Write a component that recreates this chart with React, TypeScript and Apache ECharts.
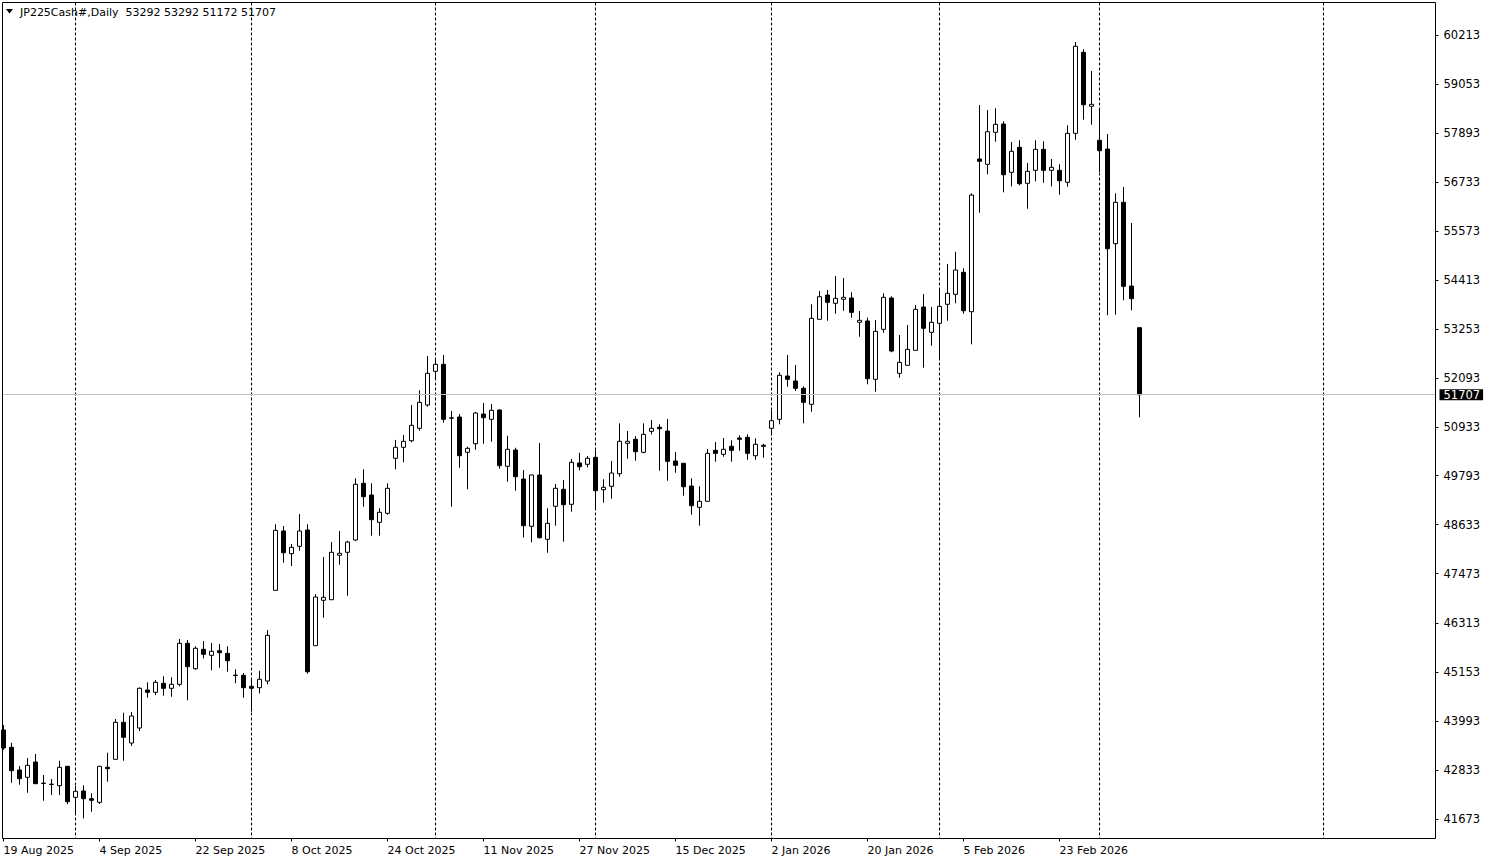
import React, { useEffect, useRef } from "react";
import * as echarts from "echarts";

const symbolTitle = "JP225Cash#,Daily";
const firstDate = "2025-08-19";
const holidays = ["2025-12-25", "2026-01-01"];
const futureSlots = 37;
const monthNames = ["Jan", "Feb", "Mar", "Apr", "May", "Jun", "Jul", "Aug", "Sep", "Oct", "Nov", "Dec"];

const opens = [
  43778, 43368, 42832, 42659, 43021, 42520, 42490, 42460, 42920, 42186, 42335, 42153, 42068, 42896, 43085, 43960, 43470, 43825, 44724, 44669,
  44882, 44764, 44858, 45828, 45227, 45686, 45544, 45653, 45591, 45075, 45071, 44811, 44778, 44936, 47081, 48484, 47947, 48122, 48507, 45771,
  46845, 46859, 47909, 47980, 48271, 49612, 49335, 48689, 48902, 50203, 50463, 50619, 50912, 51463, 52260, 52426, 51150, 51179, 50345, 50548,
  51250, 51125, 51345, 50014, 50399, 49713, 48595, 49808, 48287, 49068, 49470, 49115, 50092, 50061, 50226, 49460, 49541, 49839, 50557, 50652,
  50345, 50841, 50936, 50848, 50139, 50085, 49548, 49044, 49186, 50392, 50297, 50487, 50683, 50699, 50264, 50510, 50912, 51125, 52149, 52031,
  51858, 51480, 53490, 54064, 53868, 53963, 53994, 53419, 53450, 52071, 53253, 53994, 52213, 52402, 52757, 53781, 53182, 53395, 53845, 54081,
  54601, 53670, 57281, 57155, 57912, 58108, 56966, 57557, 56706, 57013, 57510, 57013, 57013, 56730, 57888, 59804, 58527, 57723, 57517, 55278,
  56257, 54277, 53292,
];
const highs = [
  43896, 43477, 42926, 43115, 43210, 42713, 42619, 43052, 42926, 42453, 42470, 42281, 42930, 43241, 44038, 44187, 44203, 44787, 44906, 44960,
  45047, 45024, 45930, 45906, 45757, 45882, 45835, 45811, 45757, 45213, 45126, 44967, 45180, 46142, 48642, 48602, 48176, 48886, 48642, 46994,
  47869, 48223, 48484, 48254, 49730, 49943, 49612, 49020, 49612, 50636, 50754, 51463, 51811, 52622, 52575, 52646, 51321, 51250, 50477, 51298,
  51511, 51487, 51362, 50737, 50453, 49926, 49815, 50565, 49020, 49595, 49690, 50186, 50335, 50257, 50382, 49706, 50139, 51030, 50848, 50730,
  51030, 51108, 51007, 51132, 50352, 50090, 49730, 49541, 50423, 50588, 50683, 50628, 50747, 50770, 50676, 50548, 51328, 52236, 52646, 52409,
  51905, 53845, 54159, 54183, 54514, 54467, 54128, 53686, 53528, 53473, 54105, 54034, 53119, 53355, 53828, 54088, 53781, 54223, 54798, 55088,
  54696, 56469, 58558, 58439, 58480, 58172, 57683, 57723, 57186, 57723, 57699, 57281, 57155, 58078, 60047, 59882, 59362, 58446, 57872, 56469,
  56618, 55767, 53292,
];
const lows = [
  43305, 42531, 42484, 42295, 42500, 42106, 42240, 42240, 42021, 41768, 41689, 41846, 42028, 42555, 43080, 43052, 43399, 43754, 44541, 44605,
  44589, 44565, 44811, 44480, 45204, 45473, 45189, 45251, 45156, 44882, 44541, 44210, 44645, 44858, 47075, 47734, 47656, 48018, 45109, 45765,
  46433, 46850, 47687, 46954, 48247, 49058, 48372, 48372, 48869, 49943, 50108, 50581, 50855, 51423, 52095, 51045, 49058, 49980, 49470, 50406,
  50548, 50595, 49957, 49649, 49437, 48330, 48216, 48311, 47970, 48609, 48231, 48940, 49919, 49990, 49011, 49153, 49247, 49768, 50193, 50146,
  50321, 50770, 49910, 49673, 49862, 49318, 48869, 48609, 49180, 50122, 50241, 50122, 50382, 50170, 50170, 50217, 50747, 51007, 51896, 51794,
  51030, 51305, 53485, 53457, 53622, 53693, 53528, 53078, 51953, 51778, 53173, 52710, 52109, 52395, 52750, 52345, 52866, 52527, 53457, 53868,
  53622, 52899, 56011, 56919, 57690, 56493, 56635, 56659, 56105, 56753, 56720, 56635, 56436, 56626, 57737, 58210, 58092, 56973, 53584, 53599,
  53939, 53703, 51172,
];
const closes = [
  43352, 42815, 42626, 42943, 42508, 42514, 42497, 42896, 42082, 42328, 42153, 42115, 42919, 42863, 43960, 43605, 44109, 44764, 44669, 44906,
  44764, 44858, 45828, 45275, 45710, 45568, 45639, 45606, 45416, 45068, 44778, 44764, 44977, 46017, 48500, 47970, 48098, 48484, 45156, 46923,
  46916, 47980, 47956, 48223, 49588, 49295, 48751, 48926, 49493, 50463, 50605, 50983, 51527, 52213, 52426, 51125, 51160, 50264, 50439, 51274,
  51163, 51338, 50028, 50416, 49768, 48609, 49808, 48325, 48666, 49493, 49106, 50108, 50004, 50203, 49437, 49517, 49855, 50605, 50605, 50359,
  50770, 50912, 50903, 50132, 50037, 49531, 49082, 49186, 50321, 50321, 50416, 50392, 50652, 50321, 50534, 50487, 51092, 52166, 52071, 51858,
  51527, 53513, 54024, 53892, 53986, 54010, 53655, 53466, 52085, 53206, 54010, 52740, 52473, 52780, 53726, 53277, 53419, 53797, 54105, 54656,
  53693, 56429, 57226, 57926, 58101, 56909, 57463, 56697, 56990, 57510, 57013, 57084, 56767, 57888, 59946, 58565, 58574, 57477, 55159, 56257,
  54270, 53977, 51707,
];

const priceTicks = [41673, 42833, 43993, 45153, 46313, 47473, 48633, 49793, 50933, 52093, 53253, 54413, 55573, 56733, 57893, 59053, 60213];
const monthStartIndex = [9, 31, 54, 74, 96, 117, 137, 165];
const labelEvery = 12;
const priceMin = 41212;
const priceMax = 60982;

function tradingDays(start: string, count: number): string[] {
  const out: string[] = [];
  const d = new Date(start + "T00:00:00Z");
  while (out.length < count) {
    const iso = d.toISOString().slice(0, 10);
    const wd = d.getUTCDay();
    if (wd !== 0 && wd !== 6 && !holidays.includes(iso)) {
      out.push(`${d.getUTCDate()} ${monthNames[d.getUTCMonth()]} ${d.getUTCFullYear()}`);
    }
    d.setUTCDate(d.getUTCDate() + 1);
  }
  return out;
}

const FONT = "DejaVu Sans";

export default function App() {
  const ref = useRef<HTMLDivElement>(null);
  useEffect(() => {
    document.body.style.margin = "0";
    const n = opens.length;
    const dates = tradingDays(firstDate, n);
    const cats = dates.concat(Array.from({ length: futureSlots }, (_, i) => "+" + (i + 1)));
    const last = n - 1;
    const header = `${symbolTitle}  ${opens[last]} ${highs[last]} ${lows[last]} ${closes[last]}`;
    const lastPrice = closes[last];
    const labelShown = (i: number) => i % labelEvery === 0 && i < n;

    const chart = echarts.init(ref.current!, null, { renderer: "svg" });
    chart.setOption({
      animation: false,
      backgroundColor: "#ffffff",
      grid: { left: 3.5, right: 59.5, top: 2.5, bottom: 23.5, containLabel: false },
      xAxis: {
        type: "category",
        data: cats,
        boundaryGap: false,
        axisLine: { show: false },
        axisTick: { show: true, interval: (i: number) => labelShown(i), length: 3, lineStyle: { color: "#000", width: 1 } },
        axisLabel: {
          interval: (i: number) => labelShown(i),
          align: "left",
          color: "#000",
          fontFamily: FONT,
          fontSize: 11,
          margin: 6,
        },
        splitLine: {
          show: true,
          interval: (i: number) => monthStartIndex.includes(i),
          lineStyle: { color: "#000", width: 1, type: [3, 2] },
        },
      },
      yAxis: {
        type: "value",
        position: "right",
        min: priceMin,
        max: priceMax,
        scale: true,
        axisLine: { show: false },
        splitLine: { show: false },
        axisTick: { show: true, customValues: priceTicks, length: 3, lineStyle: { color: "#000", width: 1 } },
        axisLabel: {
          customValues: priceTicks,
          formatter: (v: number) => String(v),
          color: "#000",
          fontFamily: FONT,
          fontSize: 11.5,
          margin: 8,
        },
      },
      series: [
        {
          type: "candlestick",
          data: opens.map((o, i) => [o, closes[i], lows[i], highs[i]]),
          barWidth: 4,
          clip: false,
          itemStyle: {
            color: "#ffffff",
            color0: "#000000",
            borderColor: "#000000",
            borderColor0: "#000000",
            borderWidth: 1,
          },
          emphasis: { disabled: true },
          markLine: {
            silent: true,
            symbol: "none",
            animation: false,
            lineStyle: { color: "#c0c0c0", type: "solid", width: 1 },
            label: {
              show: true,
              position: "end",
              distance: 4,
              formatter: String(lastPrice),
              color: "#ffffff",
              backgroundColor: "#000000",
              padding: [0, 3, 0, 4],
              lineHeight: 11,
              fontFamily: FONT,
              fontSize: 11.5,
            },
            emphasis: { disabled: true },
            data: [{ yAxis: lastPrice }],
          },
        },
      ],
      graphic: [
        {
          type: "rect",
          z: 100,
          silent: true,
          shape: { x: 2.5, y: 2.5, width: 1433, height: 836 },
          style: { fill: "none", stroke: "#000", lineWidth: 1 },
        },
        {
          type: "polygon",
          z: 100,
          silent: true,
          shape: { points: [[6, 9], [13, 9], [9.5, 13.5]] },
          style: { fill: "#000" },
        },
        {
          type: "text",
          z: 100,
          silent: true,
          x: 20,
          y: 12,
          style: { text: header, fill: "#000", font: `11px "${FONT}"`, textVerticalAlign: "middle", verticalAlign: "middle" },
        },
      ],
    });
    return () => chart.dispose();
  }, []);
  return <div ref={ref} style={{ width: 1495, height: 862, position: "absolute", left: 0, top: 0 }} />;
}
